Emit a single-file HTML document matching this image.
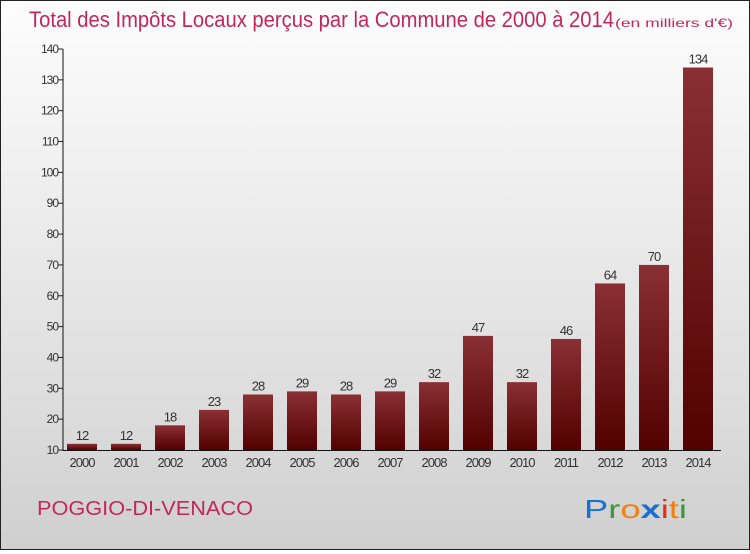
<!DOCTYPE html>
<html><head><meta charset="utf-8"><style>
body{margin:0;width:750px;height:550px;overflow:hidden;font-family:"Liberation Sans",sans-serif}
#wrap{position:absolute;left:0;top:0;width:748px;height:548px;border:1px solid #222;background:linear-gradient(#fdfdfd,#f0f0f0 30%,#dcdcdc 75%,#cfcfcf)}
</style></head><body>
<div id="wrap">
<svg width="748" height="548" id="svg">
<defs><linearGradient id="bg" x1="0" y1="0" x2="0" y2="1"><stop offset="0" stop-color="#8a3035"/><stop offset="1" stop-color="#520000"/></linearGradient></defs>
<text x="28" y="26" font-size="22" fill="#c2275c" textLength="585" lengthAdjust="spacingAndGlyphs">Total des Impôts Locaux perçus par la Commune de 2000 à 2014</text>
<text x="614" y="26" font-size="12" fill="#c2275c" textLength="118" lengthAdjust="spacingAndGlyphs">(en milliers d'€)</text>
<text x="36" y="514" font-size="20" fill="#c2275c" textLength="216" lengthAdjust="spacingAndGlyphs">POGGIO-DI-VENACO</text>
<text x="583" y="517" font-size="26" textLength="103" lengthAdjust="spacingAndGlyphs"><tspan fill="#1a6fd0">P</tspan><tspan fill="#3a9a3a">r</tspan><tspan fill="#f08010">o</tspan><tspan fill="#1a6fd0" font-weight="bold">x</tspan><tspan fill="#e03010">i</tspan><tspan fill="#f08010">t</tspan><tspan fill="#3a9a3a">i</tspan></text>
<g id="plot"></g>
</svg></div>
<script>
const categories=["2000","2001","2002","2003","2004","2005","2006","2007","2008","2009","2010","2011","2012","2013","2014"];
const values=[12,12,18,23,28,29,28,29,32,47,32,46,64,70,134];
const yTicks=[10,20,30,40,50,60,70,80,90,100,110,120,130,140];
const ns="http://www.w3.org/2000/svg";
const g=document.getElementById('plot');
const y=v=>449-(v-10)*(401/130);
const x=i=>81+i*44;
function el(t,a,txt){const e=document.createElementNS(ns,t);for(const k in a)e.setAttribute(k,a[k]);if(txt!==undefined)e.textContent=txt;g.appendChild(e);return e;}
yTicks.forEach(v=>{
 const l=el('line',{x1:57,x2:62,y1:y(v),y2:y(v),stroke:'#222'});
 
 
 const t=el('text',{x:57,y:y(v)+4,'text-anchor':'end','font-size':12,fill:'#333','letter-spacing':'-1'},v);
 
 
});
categories.forEach((c,i)=>{
 const v=values[i];
 const r=el('rect',{x:x(i)-15,y:y(v),width:30,height:449-y(v),fill:'url(#bg)'});
 
 
 const t=el('text',{x:x(i),y:y(v)-4,'text-anchor':'middle','font-size':13,fill:'#333','letter-spacing':'-1'},v);
 
 
 const xl=el('text',{x:x(i),y:466,'text-anchor':'middle','font-size':13,fill:'#333','letter-spacing':'-1'},c);
 
 
});
const ya=el('line',{x1:62,x2:62,y1:y(140),y2:450,stroke:'#111'});


const xa=el('line',{x1:62,x2:720,y1:449.5,y2:449.5,stroke:'#111'});


</script>
</body></html>
